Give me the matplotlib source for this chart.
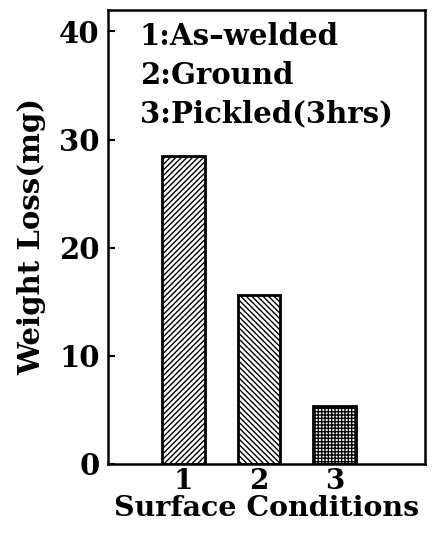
import numpy as np
import matplotlib
matplotlib.use('Agg')
from matplotlib import pyplot as plt

# data
conditions = ['1', '2', '3']
weight_loss = [28.5, 15.6, 5.4]
hatches = ['//////', '\\\\\\\\\\\\', '+++++']
legend_lines = ['1:As\u2013welded', '2:Ground', '3:Pickled(3hrs)']

plt.rcParams['font.family'] = 'DejaVu Serif'
plt.rcParams['font.weight'] = 'bold'
plt.rcParams['hatch.linewidth'] = 1.0

fig = plt.figure(figsize=(4.48, 5.33), dpi=100)
ax = fig.add_axes([0.241, 0.1295, 0.708, 0.852])

x = np.arange(1, len(conditions) + 1)
ax.bar(x, weight_loss, width=0.56, color='white', edgecolor='black',
       linewidth=2, hatch=hatches)

ax.set_xlim(0, 4.2)
ax.set_ylim(0, 42)
ax.set_yticks([0, 10, 20, 30, 40])
ax.set_xticks(x)
ax.set_xticklabels(conditions)
ax.tick_params(axis='y', direction='in', length=5, width=1.5, labelsize=21, pad=6)
ax.tick_params(axis='x', length=0, labelsize=20, pad=3)
for s in ax.spines.values():
    s.set_linewidth(1.8)

ax.set_ylabel('Weight Loss(mg)', fontsize=21, fontweight='bold')
ax.yaxis.set_label_coords(-0.195, 0.5)
ax.set_xlabel('Surface Conditions', fontsize=20.5, fontweight='bold', labelpad=0)

for i, t in enumerate(legend_lines):
    ax.text(0.1, 0.974 - i * 0.086, t, transform=ax.transAxes, fontsize=21,
            fontweight='bold', va='top', ha='left')

fig.savefig('out.png', dpi=100)
